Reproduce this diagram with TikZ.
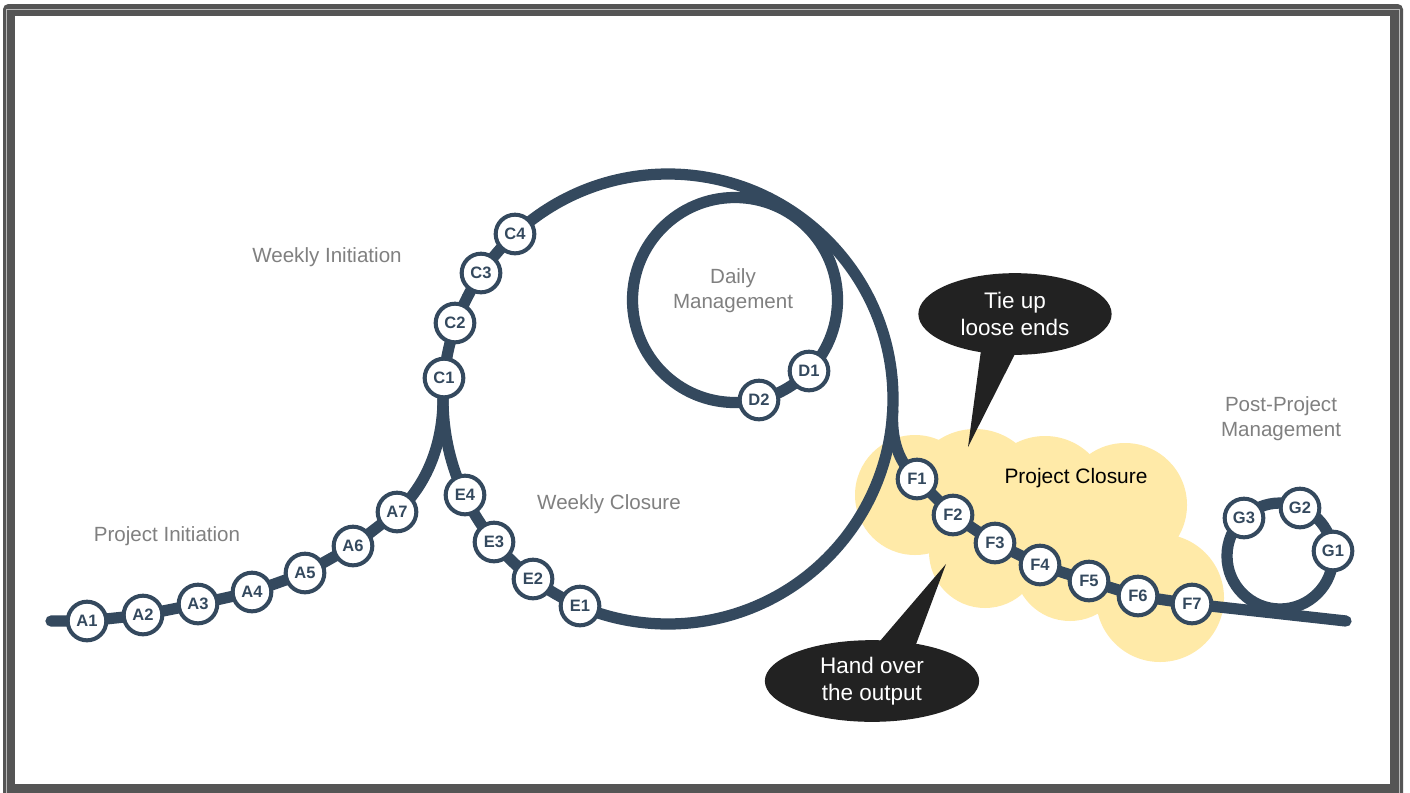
\documentclass[tikz,border=0pt]{standalone}
\usepackage{fontspec}
\setmainfont{Liberation Sans}
\usetikzlibrary{shapes.geometric}
\definecolor{trackc}{RGB}{52,73,94}
\definecolor{labelc}{RGB}{128,128,128}
\definecolor{bubblec}{RGB}{34,34,34}
\definecolor{cloudc}{RGB}{255,234,168}
\definecolor{framec}{RGB}{85,85,85}
\pgfdeclarelayer{bg}
\pgfsetlayers{bg,main}
\begin{document}
\begin{tikzpicture}[x=0.02cm, y=-0.02cm,
  track/.style={draw=trackc, line width=6.4pt, line cap=round, line join=round},
  stop/.style={circle, draw=trackc, fill=white, line width=2.3pt, minimum size=22pt, inner sep=0pt, text=trackc, font=\fontsize{9.4}{10}\selectfont\bfseries},
  lbl/.style={text=labelc, align=center, font=\fontsize{11.7}{14.3}\selectfont},
  bubble/.style={ellipse, fill=bubblec, text=white, align=center, inner sep=0pt, font=\fontsize{12.8}{15.3}\selectfont},
  tail/.style={fill=bubblec}
]
\useasboundingbox (0,0) rectangle (1410,792);

% stops
\node[stop] (A1) at (87,621) {A1};
\node[stop] (A2) at (143,615) {A2};
\node[stop] (A3) at (198,604) {A3};
\node[stop] (A4) at (252,592) {A4};
\node[stop] (A5) at (305,573) {A5};
\node[stop] (A6) at (353,546) {A6};
\node[stop] (A7) at (397,512) {A7};
\node[stop] (C1) at (444,378) {C1};
\node[stop] (C2) at (455,323) {C2};
\node[stop] (C3) at (481,273) {C3};
\node[stop] (C4) at (515,234) {C4};
\node[stop] (D1) at (809,371) {D1};
\node[stop] (D2) at (759,400) {D2};
\node[stop] (E1) at (580,606) {E1};
\node[stop] (E2) at (533,579) {E2};
\node[stop] (E3) at (494,542) {E3};
\node[stop] (E4) at (465,495) {E4};
\node[stop] (F1) at (917,479) {F1};
\node[stop] (F2) at (953,515) {F2};
\node[stop] (F3) at (995,543) {F3};
\node[stop] (F4) at (1040,565) {F4};
\node[stop] (F5) at (1089,581) {F5};
\node[stop] (F6) at (1138,596) {F6};
\node[stop] (F7) at (1192,604) {F7};
\node[stop] (G1) at (1333,551) {G1};
\node[stop] (G2) at (1300,508) {G2};
\node[stop] (G3) at (1244,518) {G3};

\coordinate (Ls) at (51,621);
\coordinate (Re) at (1346,621);
\coordinate (cusp) at (443,399);
\coordinate (BC) at (668,399);
\coordinate (DC) at (735,300);
\coordinate (fs) at (892.7,411);
\coordinate (Gc) at (1280,556);

\begin{pgfonlayer}{bg}
  % frame
  \fill[white] (0,0) rectangle (1410,792);
  \fill[framec, rounded corners=3] (3,4) rectangle (1403,806);
  \draw[gray!55, line width=0.6pt] (6.7,9.5) rectangle (1399.8,800);
  \fill[white] (15,16) rectangle (1390,784);
  % cloud
  \fill[cloudc] (915,495) circle[radius=60] (975,495) circle[radius=66]
    (1045,500) circle[radius=64] (1125,505) circle[radius=62]
    (1160,598) circle[radius=64] (1070,565) circle[radius=56]
    (985,552) circle[radius=56] (1060,530) circle[radius=70];
  % tracks
  \draw[track] (Ls) -- (A1.center) -- (A2.center) -- (A3.center) -- (A4.center)
     -- (A5.center) -- (A6.center) -- (A7.center) .. controls (426,486) and (443,445) .. (cusp);
  \draw[track] (BC) circle[radius=225];
  \draw[track] (DC) circle[radius=102.5];
  \draw[track] (fs) .. controls (891,448) and (903,466) .. (F1.center) -- (F2.center) -- (F3.center)
     -- (F4.center) -- (F5.center) -- (F6.center) -- (F7.center) -- (Re);
  \draw[track] (Gc) circle[radius=53];
\end{pgfonlayer}

% labels
\node[lbl] (wi) at (327,257) {Weekly Initiation};
\node[lbl] (pi) at (167,536) {Project Initiation};
\node[lbl] (wc) at (609,504) {Weekly Closure};
\node[lbl] (dm) at (733,291) {Daily\\Management};
\node[lbl] (ppm) at (1281,419) {Post-Project\\Management};
\node[text=black, font=\fontsize{11.9}{14}\selectfont] (pc) at (1076,478) {Project Closure};

% bubbles
\coordinate (tieTip) at (968,447);
\coordinate (handTip) at (946,564);
\fill[tail] (981.7,345) -- (tieTip) -- (1019.5,345) -- cycle;
\fill[tail] (868,655) -- (handTip) -- (912,655) -- cycle;
\node[bubble, minimum width=110pt, minimum height=46.5pt] (tie) at (1015,314) {Tie up\\loose ends};
\node[bubble, minimum width=122pt, minimum height=46.5pt] (hand) at (872,681) {Hand over\\the output};
\end{tikzpicture}
\end{document}
